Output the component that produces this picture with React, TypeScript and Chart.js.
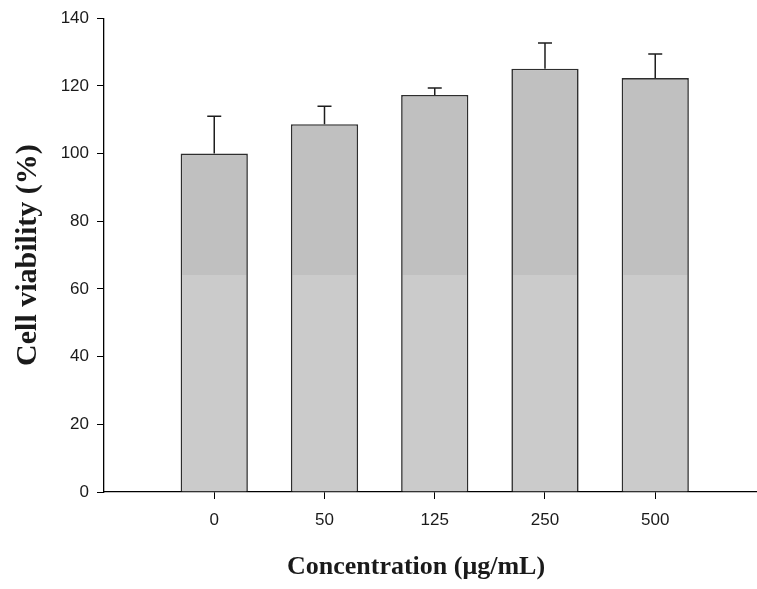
import React, { useEffect, useRef } from 'react';
import { Chart, registerables } from 'chart.js';

Chart.register(...registerables);

const categories = ['0', '50', '125', '250', '500'];
const viability = [100, 108.7, 117.3, 125.1, 122.3];
const errors = [11.0, 5.3, 2.1, 7.6, 7.1];
const yMin = 0;
const yMax = 140;
const yStep = 20;
const xTitle = 'Concentration (\u03bcg/mL)';
const yTitle = 'Cell viability (%)';

const titleFont = '"Liberation Serif", "Times New Roman", serif';

const errorBarPlugin = {
  id: 'errorBars',
  afterDatasetsDraw(chart: any) {
    const meta = chart.getDatasetMeta(0);
    const ys = chart.scales.y;
    const ctx = chart.ctx;
    ctx.save();
    ctx.strokeStyle = '#1e1e1e';
    ctx.lineWidth = 1.5;
    meta.data.forEach((bar: any, i: number) => {
      const top = ys.getPixelForValue(viability[i] + errors[i]);
      ctx.beginPath();
      ctx.moveTo(bar.x, bar.y);
      ctx.lineTo(bar.x, top);
      ctx.moveTo(bar.x - 7, top);
      ctx.lineTo(bar.x + 7, top);
      ctx.stroke();
    });
    ctx.restore();
  },
};

const xTitlePlugin = {
  id: 'xTitle',
  afterDraw(chart: any) {
    const ctx = chart.ctx;
    const area = chart.chartArea;
    ctx.save();
    ctx.font = `bold 26px ${titleFont}`;
    ctx.fillStyle = '#1a1a1a';
    ctx.textAlign = 'center';
    ctx.textBaseline = 'middle';
    ctx.fillText(xTitle, area.left + 312, chart.height - 21.6);
    ctx.restore();
  },
};

export default function App() {
  const ref = useRef<HTMLCanvasElement | null>(null);

  useEffect(() => {
    if (!ref.current) return;
    const chart = new Chart(ref.current, {
      type: 'bar',
      data: {
        datasets: [
          {
            data: categories.map((_, i) => ({ x: i + 1, y: viability[i] })),
            backgroundColor: (c: any) => {
              const area = c.chart.chartArea;
              if (!area) return '#c0c0c0';
              const g = c.chart.ctx.createLinearGradient(0, area.top, 0, area.bottom);
              g.addColorStop(0, '#c0c0c0');
              g.addColorStop(0.541, '#c0c0c0');
              g.addColorStop(0.542, '#cbcbcb');
              g.addColorStop(1, '#cbcbcb');
              return g;
            },
            borderColor: '#2e2e2e',
            borderWidth: 1.6,
            barPercentage: 0.61,
            categoryPercentage: 1,
          },
        ],
      },
      options: {
        responsive: false,
        animation: false,
        layout: { padding: { top: 13, right: 0, bottom: 0, left: 0 } },
        plugins: { legend: { display: false }, tooltip: { enabled: false } },
        scales: {
          x: {
            type: 'linear',
            min: 0,
            max: 5.923,
            offset: false,
            afterBuildTicks: (axis: any) => {
              axis.ticks = categories.map((_, i) => ({ value: i + 1 }));
            },
            afterFit: (axis: any) => {
              axis.height = 97;
            },
            ticks: {
              callback: (v: any) => categories[Number(v) - 1] ?? '',
              font: { family: '"Liberation Sans", Arial, sans-serif', size: 17 },
              color: '#1a1a1a',
              padding: 11,
              maxRotation: 0,
              autoSkip: false,
            },
            grid: { drawOnChartArea: false, offset: false, tickLength: 7, color: '#000', lineWidth: 1 },
            border: { display: true, color: '#000', width: 1.3 },
            title: { display: false },
          },
          y: {
            min: yMin,
            max: yMax,
            afterFit: (axis: any) => {
              axis.width = 104;
            },
            ticks: {
              stepSize: yStep,
              font: { family: '"Liberation Sans", Arial, sans-serif', size: 17 },
              color: '#1a1a1a',
              padding: 8,
            },
            grid: { drawOnChartArea: false, tickLength: 7, color: '#000', lineWidth: 1 },
            border: { display: true, color: '#000', width: 1.3 },
            title: {
              display: true,
              text: yTitle,
              font: { family: titleFont, size: 30, weight: 'bold' },
              color: '#1a1a1a',
              padding: { top: 10, bottom: 0 },
            },
          },
        },
      },
      plugins: [errorBarPlugin, xTitlePlugin],
    });
    return () => chart.destroy();
  }, []);

  return (
    <div style={{ position: 'fixed', left: 0, top: 0, width: 757, height: 589, background: '#fff' }}>
      <canvas ref={ref} width={757} height={589} style={{ display: 'block' }} />
    </div>
  );
}
